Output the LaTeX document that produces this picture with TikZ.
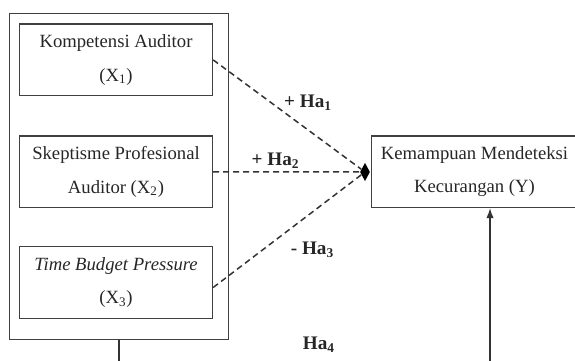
\documentclass[tikz,border=0pt]{standalone}
\usepackage{fontspec}
\setmainfont{Liberation Serif}
\usetikzlibrary{arrows.meta, calc, shapes.geometric}

\begin{document}
\begin{tikzpicture}[x=0.6pt, y=-0.6pt,
  varbox/.style={draw=black!75, line width=0.8pt, minimum width=115.8pt,
    minimum height=43pt, align=center, text=black!85,
    font=\fontsize{11.2}{20}\selectfont,
    execute at begin node={\rule{0pt}{12.5pt}}},
  hyplabel/.style={text=black!85, font=\fontsize{11.5}{13}\selectfont\bfseries},
  hypline/.style={black!80, line width=0.9pt, dash pattern=on 3.6pt off 2.4pt}]
\useasboundingbox (0,0) rectangle (575,361);
\clip (0,0) rectangle (575,361);
% Outer frame round the independent variables
\node[draw=black!75, line width=0.8pt, minimum width=131.7pt,
  minimum height=195.4pt] (outer) at (119,176.5) {};
% Independent variables
\node[varbox] (x1) at (116,59.9) {Kompetensi Auditor\\(X\textsubscript{1})};
\node[varbox] (x2) at (116,171.9) {Skeptisme Profesional\\Auditor (X\textsubscript{2})};
\node[varbox] (x3) at (116,282.5) {\textit{Time Budget Pressure}\\(X\textsubscript{3})};
% Dependent variable
\node[varbox, minimum width=124pt] (y) at (474.5,171.7)
  {Kemampuan Mendeteksi\\Kecurangan (Y)};
% Point where the paths meet
\node[diamond, fill=black, inner sep=0pt, minimum width=6pt,
  minimum height=11pt] (hub) at (365,172) {};
% Free ends at the lower edge
\coordinate (low) at (120,370);
\coordinate (rise) at (490,370);
% Hypotheses paths
\draw[hypline] (x1.east) -- (hub);
\draw[hypline] (x2.east) -- (hub);
\draw[hypline] ([yshift=-3pt]x3.east) -- (hub);
\draw[black!80, line width=0.8pt] (outer.south) -- (outer.south |- low);
\draw[black!80, line width=0.8pt, -{Latex[length=6pt, width=4.5pt]}]
  (rise) -- (rise |- y.south);
% Labels
\node[hyplabel] (ha1) at (308,102.7) {+ Ha\textsubscript{1}};
\node[hyplabel] (ha2) at (275.5,161) {+ Ha\textsubscript{2}};
\node[hyplabel] (ha3) at (312.5,250) {- Ha\textsubscript{3}};
\node[hyplabel] (ha4) at (319,345) {Ha\textsubscript{4}};
\end{tikzpicture}
\end{document}
